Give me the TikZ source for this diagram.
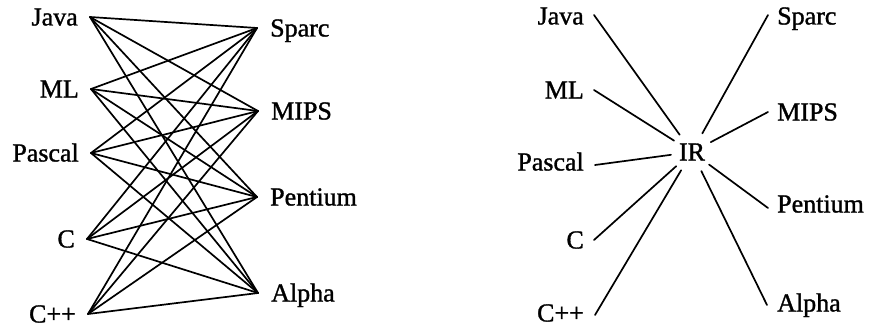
\documentclass[tikz,border=0pt]{standalone}
\usepackage{fontspec}
\setmainfont{Liberation Serif}
\newfontfamily\scanfont{Liberation Serif}[FakeBold=1.2]
\begin{document}
\begin{tikzpicture}[x=1pt,y=-1pt,
  lbl/.style={font=\scanfont\fontsize{26}{30}\selectfont, inner ysep=0pt, inner xsep=0pt, text height=17pt, text depth=0pt},
  lft/.style={lbl, anchor=east, inner xsep=12pt},
  rgt/.style={lbl, anchor=west, inner xsep=13pt},
  wire/.style={line width=1.7pt, line cap=round}]
\useasboundingbox (0,0) rectangle (869,329);
% ---------- left panel ----------
\node[lft] (java) at (90,17) {Java};
\node[lft] (ml) at (91,89) {ML};
\node[lft] (pascal) at (91,153) {Pascal};
\node[lft] (c) at (87,239) {C};
\node[lft] (cpp) at (88,314) {C++};
\node[rgt] (sparc) at (257,28) {Sparc};
\node[rgt] (mips) at (258,111) {MIPS};
\node[rgt] (pentium) at (257,197) {Pentium};
\node[rgt] (alpha) at (258,293) {Alpha};
\foreach \a in {java,ml,pascal,c,cpp}
  \foreach \b in {sparc,mips,pentium,alpha}
    \draw[wire] (\a.east) -- (\b.west);
% ---------- right panel ----------
\node[lbl, circle, minimum size=42pt] (ir) at (692,152) {IR};
\coordinate (rjava) at (594,15);
\coordinate (rml) at (594,90);
\coordinate (rpascal) at (595,165);
\coordinate (rc) at (594,240);
\coordinate (rcpp) at (595,315);
\coordinate (rsparc) at (768,15);
\coordinate (rmips) at (768,112);
\coordinate (rpentium) at (768,208);
\coordinate (ralpha) at (767,305);
\node[lbl, anchor=east] (ljava) at (584,16) {Java};
\node[lbl, anchor=east] (lml) at (584,90) {ML};
\node[lbl, anchor=east] (lpascal) at (584,162) {Pascal};
\node[lbl, anchor=east] (lc) at (584,240) {C};
\node[lbl, anchor=east] (lcpp) at (584,313) {C++};
\node[lbl, anchor=west] (lsparc) at (777,16) {Sparc};
\node[lbl, anchor=west] (lmips) at (777,112) {MIPS};
\node[lbl, anchor=west] (lpentium) at (777,204) {Pentium};
\node[lbl, anchor=west] (lalpha) at (777,303) {Alpha};
\foreach \p in {rjava,rml,rpascal,rc,rcpp,rsparc,rmips,rpentium,ralpha}
  \draw[wire] (\p) -- (ir);
\end{tikzpicture}
\end{document}
